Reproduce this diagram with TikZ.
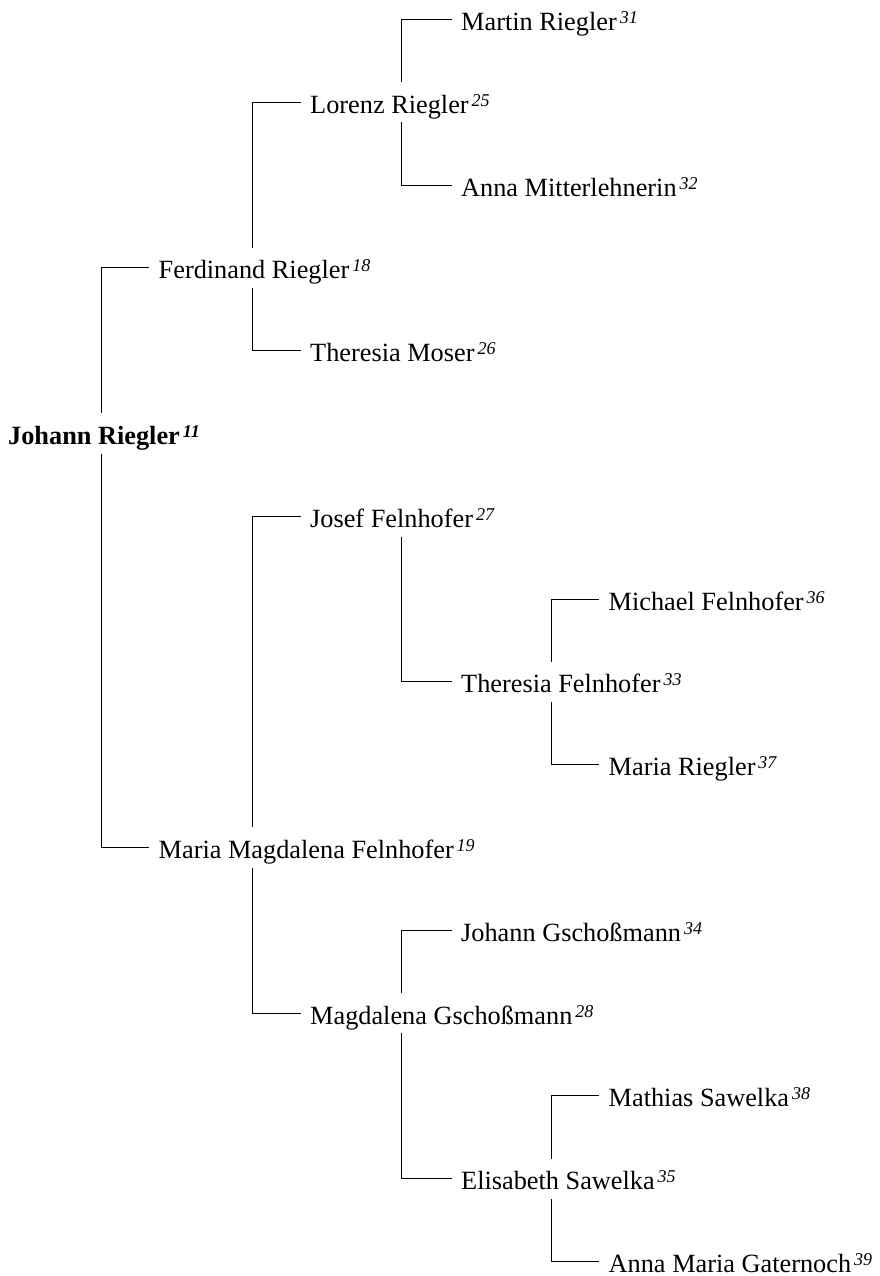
\documentclass[tikz,border=0pt]{standalone}
\usepackage{fontspec}
\setmainfont{Liberation Serif}
\usepackage{tikz}
\newcommand{\ahn}[1]{\hspace{3pt}\raisebox{7pt}{\fontsize{18}{18}\selectfont\itshape #1}}

\begin{document}
\begin{tikzpicture}[x=1pt,y=-1pt,
  person/.style={anchor=base west,inner xsep=9.5pt,inner ysep=3pt,
    text height=28pt,text depth=6pt,font=\fontsize{26.3}{31}\selectfont},
  line/.style={line width=1pt}
  ]
  \useasboundingbox (0,0) rectangle (880,1276);
  \node[person] (martin) at (451.5,30.5) {Martin Riegler\ahn{31}};
  \node[person] (lorenz) at (300.5,113.3) {Lorenz Riegler\ahn{25}};
  \node[person] (annamit) at (451.5,196.1) {Anna Mitterlehnerin\ahn{32}};
  \node[person] (ferdinand) at (149,278.9) {Ferdinand Riegler\ahn{18}};
  \node[person] (theresiamos) at (300.5,361.7) {Theresia Moser\ahn{26}};
  \node[person] (johann) at (-1.5,444.5) {\bfseries Johann Riegler\ahn{11}};
  \node[person] (josef) at (300.5,527.3) {Josef Felnhofer\ahn{27}};
  \node[person] (michael) at (599,610.1) {Michael Felnhofer\ahn{36}};
  \node[person] (theresiafel) at (451.5,692.9) {Theresia Felnhofer\ahn{33}};
  \node[person] (mariarie) at (599,775.7) {Maria Riegler\ahn{37}};
  \node[person] (mariamagd) at (149,858.5) {Maria Magdalena Felnhofer\ahn{19}};
  \node[person] (johanngsch) at (451.5,941.3) {Johann Gscho\ss mann\ahn{34}};
  \node[person] (magdalena) at (300.5,1024.1) {Magdalena Gscho\ss mann\ahn{28}};
  \node[person] (mathias) at (599,1106.9) {Mathias Sawelka\ahn{38}};
  \node[person] (elisabeth) at (451.5,1189.7) {Elisabeth Sawelka\ahn{35}};
  \node[person] (annamaria) at (599,1272.5) {Anna Maria Gaternoch\ahn{39}};

  \draw[line] ([xshift=103pt]johann.north west) |- (ferdinand.west);
  \draw[line] ([xshift=103pt]johann.south west) |- (mariamagd.west);
  \draw[line] ([xshift=103pt]ferdinand.north west) |- (lorenz.west);
  \draw[line] ([xshift=103pt]ferdinand.south west) |- (theresiamos.west);
  \draw[line] ([xshift=101pt]lorenz.north west) |- (martin.west);
  \draw[line] ([xshift=101pt]lorenz.south west) |- (annamit.west);
  \draw[line] ([xshift=103pt]mariamagd.north west) |- (josef.west);
  \draw[line] ([xshift=103pt]mariamagd.south west) |- (magdalena.west);
  \draw[line] ([xshift=101pt]josef.south west) |- (theresiafel.west);
  \draw[line] ([xshift=100pt]theresiafel.north west) |- (michael.west);
  \draw[line] ([xshift=100pt]theresiafel.south west) |- (mariarie.west);
  \draw[line] ([xshift=101pt]magdalena.north west) |- (johanngsch.west);
  \draw[line] ([xshift=101pt]magdalena.south west) |- (elisabeth.west);
  \draw[line] ([xshift=100pt]elisabeth.north west) |- (mathias.west);
  \draw[line] ([xshift=100pt]elisabeth.south west) |- (annamaria.west);
\end{tikzpicture}
\end{document}
